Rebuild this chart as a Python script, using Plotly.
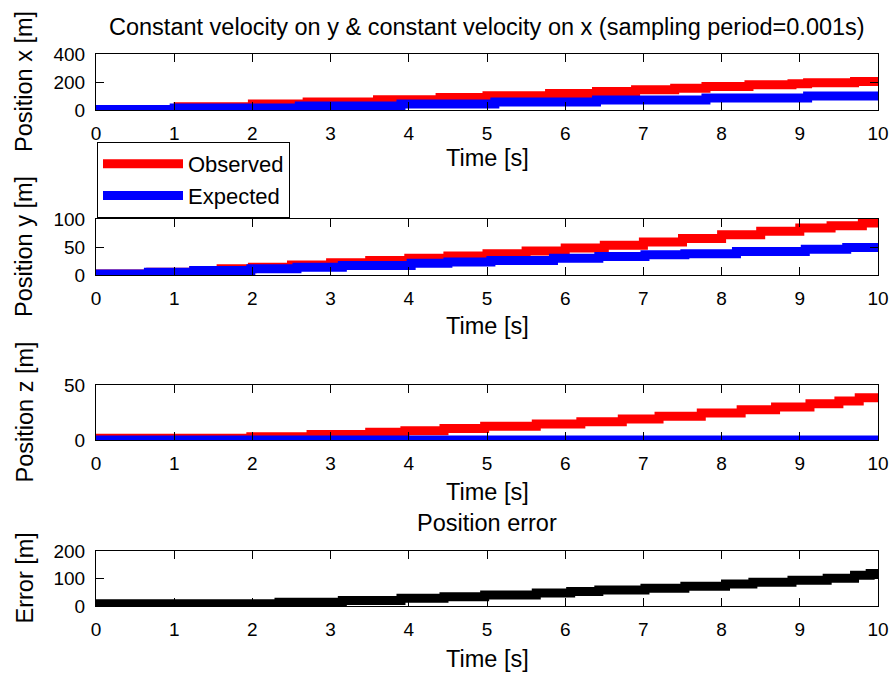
import plotly.graph_objects as go

# ---- data -----------------------------------------------------------------
# Step-wise position traces (time of each step [s], value held from that time [m])
obs_x_t = [0, 1.05, 2.0, 2.7, 3.6, 4.4, 5.0, 5.8, 6.4, 6.9, 7.4, 7.8, 8.35, 8.9, 9.1, 9.7, 10]
obs_x_v = [4, 24, 42, 58, 74, 90, 102, 118, 132, 144, 156, 168, 180, 188, 194, 204, 204]
exp_x_t = [0, 1.0, 2.6, 3.9, 5.1, 6.4, 7.8, 9.1, 10]
exp_x_v = [3, 14, 28, 42, 58, 72, 86, 100, 100]

obs_y_t = [0, 0.7, 1.25, 1.6, 2.0, 2.5, 3.0, 3.5, 4.0, 4.5, 5.0, 5.5, 6.0, 6.5, 7.0,
           7.5, 8.0, 8.5, 9.0, 9.4, 9.8, 10]
obs_y_v = [2, 5, 8, 11, 14, 18, 22, 26, 30, 34, 38, 43, 48, 53, 59,
           65, 72, 78, 84, 88, 93, 93]
exp_y_t = [0, 0.67, 1.25, 1.98, 2.57, 3.15, 4.03, 4.5, 5.05, 5.85, 6.43, 7.02, 7.53,
           8.19, 9.07, 9.6, 10]
exp_y_v = [2, 5, 8, 11, 14, 17, 21, 23, 26, 30, 33, 36, 38, 42, 46, 49, 49]

obs_z_t = [0, 1.98, 2.75, 3.5, 3.95, 4.45, 4.97, 5.63, 6.2, 6.73, 7.2, 7.74, 8.25,
           8.69, 9.13, 9.5, 9.76, 10]
obs_z_v = [1.5, 3, 5, 7, 8.5, 10.5, 12.5, 14.5, 16.5, 19, 21.5, 24.5, 27.5,
           30, 33, 35.5, 38.5, 39.5]
exp_z_t = [0, 10]
exp_z_v = [0, 0]

err_t = [0, 2.34, 3.15, 3.9, 4.45, 4.97, 5.63, 6.07, 6.43, 7.02, 7.53, 8.05, 8.4,
         8.9, 9.35, 9.7, 9.9, 10]
err_v = [8, 14, 20, 28, 34, 40, 47, 53, 58, 65, 72, 80, 86, 94, 101, 112, 118, 106]

time_ticks = list(range(0, 11))
x_ticks = [0, 200, 400]
y_ticks = [0, 50, 100]
z_ticks = [0, 50]
err_ticks = [0, 100, 200]

RED = "#ff0000"
BLUE = "#0000ff"
LW = 9

W, H = 894, 675
FONT = "Liberation Sans, Arial, sans-serif"

# pixel boxes of the four axes (top, bottom)
panels = [(54, 110), (219, 275), (385, 440), (551, 606)]
left_px, right_px = 96, 878


def py(p):
    return 1 - p / H


fig = go.Figure()

series = [
    (1, obs_x_t, obs_x_v, RED, "Observed", True),
    (1, exp_x_t, exp_x_v, BLUE, "Expected", True),
    (2, obs_y_t, obs_y_v, RED, "Observed", False),
    (2, exp_y_t, exp_y_v, BLUE, "Expected", False),
    (3, obs_z_t, obs_z_v, RED, "Observed", False),
    (3, exp_z_t, exp_z_v, BLUE, "Expected", False),
    (4, err_t, err_v, "#000000", "Error", False),
]
for k, t, v, c, name, show in series:
    sfx = "" if k == 1 else str(k)
    fig.add_trace(go.Scatter(
        x=t, y=v, mode="lines", line=dict(color=c, width=LW, shape="hv"),
        name=name, showlegend=show, xaxis="x" + sfx, yaxis="y" + sfx,
    ))

axis_common = dict(
    showline=True, linecolor="black", linewidth=1, mirror="ticks",
    ticks="inside", ticklen=8, tickwidth=1, tickcolor="black",
    showgrid=False, zeroline=False, automargin=False,
    tickfont=dict(family=FONT, size=19, color="black"),
)

yticks_list = [x_ticks, y_ticks, z_ticks, err_ticks]
yranges = [[0, 400], [0, 100], [0, 50], [0, 200]]
layout = dict(
    width=W, height=H, margin=dict(l=0, r=0, t=0, b=0, autoexpand=False),
    paper_bgcolor="white", plot_bgcolor="white",
    font=dict(family=FONT, size=19, color="black"),
    legend=dict(
        x=97 / W, y=py(142), xanchor="left", yanchor="top",
        bordercolor="black", borderwidth=1, bgcolor="white",
        font=dict(family=FONT, size=22, color="black"),
        itemwidth=80, tracegroupgap=0,
    ),
)
for i, (top, bot) in enumerate(panels):
    sfx = "" if i == 0 else str(i + 1)
    layout["xaxis" + sfx] = dict(
        axis_common, domain=[left_px / W, right_px / W], range=[0, 10],
        tickvals=time_ticks, anchor="y" + sfx, ticklabelstandoff=6,
    )
    layout["yaxis" + sfx] = dict(
        axis_common, domain=[py(bot), py(top)], range=yranges[i],
        tickvals=yticks_list[i], anchor="x" + sfx, ticklabelstandoff=6,
    )

fig.update_layout(**layout)

TXT = dict(family=FONT, size=23.5, color="black")
cx = (left_px + right_px) / 2 / W
ann = [
    dict(text="Constant velocity on y & constant velocity on x (sampling period=0.001s)",
         x=cx, y=py(27)),
    dict(text="Position error", x=cx, y=py(523)),
]
for ylab, (top, bot), xl in zip(
        ["Position x [m]", "Position y [m]", "Position z [m]", "Error [m]"],
        panels, [158, 326, 492, 659]):
    ann.append(dict(text="Time [s]", x=cx, y=py(xl)))
    ann.append(dict(text=ylab, x=24 / W, y=py((top + bot) / 2), textangle=-90))
for a in ann:
    a.update(xref="paper", yref="paper", xanchor="center", yanchor="middle",
             showarrow=False, font=TXT)
fig.update_layout(annotations=ann)

fig.write_html("out.html")
